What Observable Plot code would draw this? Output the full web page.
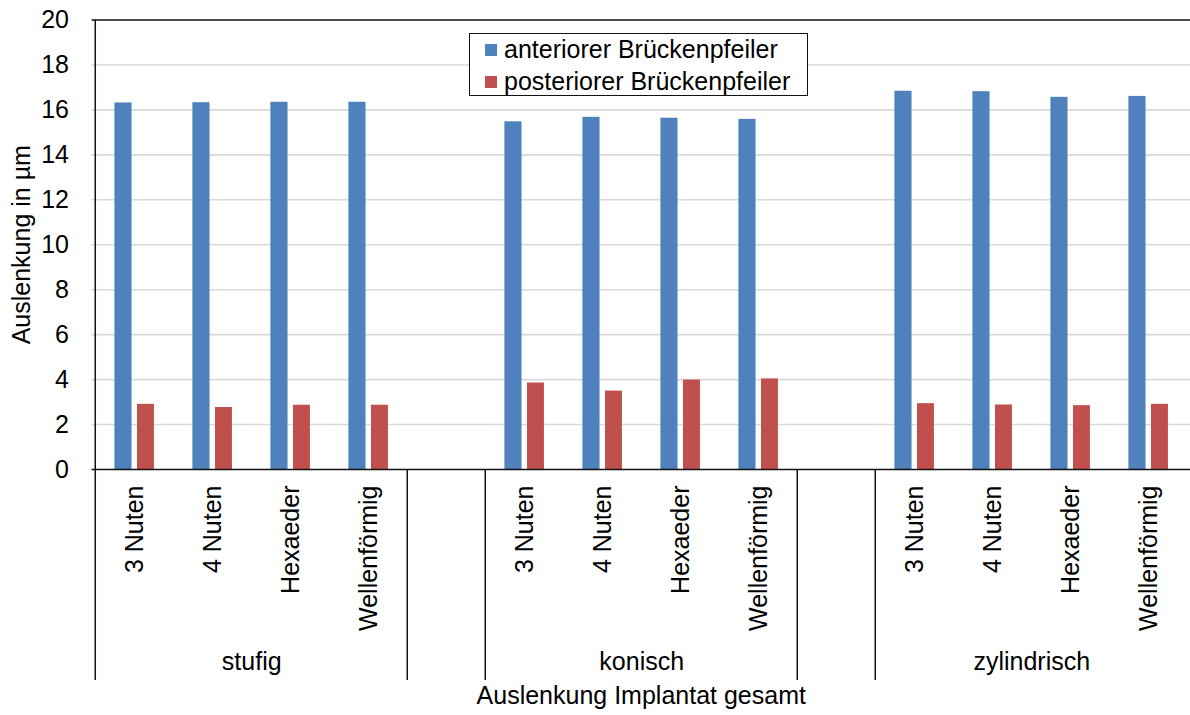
<!DOCTYPE html>
<html>
<head>
<meta charset="utf-8">
<script src="https://cdn.jsdelivr.net/npm/d3@7"></script>
<script src="https://cdn.jsdelivr.net/npm/@observablehq/plot@0.6"></script>
<style>
  html, body { margin: 0; padding: 0; background: #fff; }
  #chart { position: relative; width: 1190px; height: 715px; font-family: "Liberation Sans", Arial, sans-serif; }
  #legend {
    position: absolute; left: 469px; top: 33px; width: 337px; height: 61px;
    border: 1.5px solid #111; background: #fff; box-sizing: content-box;
    font-size: 25px; color: #000;
  }
  #legend .row { position: absolute; left: 15px; display: flex; align-items: center; white-space: nowrap; }
  #legend .sw { width: 12px; height: 12px; margin-right: 7px; }
</style>
</head>
<body>
<div id="chart"></div>
<script>
// Implant shapes grouped by abutment geometry
const groups = ["stufig", "konisch", "zylindrisch"];
const items = ["3 Nuten", "4 Nuten", "Hexaeder", "Wellenförmig"];

// Deflection in µm, in order groups × items
const anterior = [16.31, 16.32, 16.34, 16.34, 15.47, 15.67, 15.63, 15.58, 16.83, 16.81, 16.56, 16.60];
const posterior = [2.90, 2.76, 2.86, 2.86, 3.85, 3.49, 3.98, 4.03, 2.93, 2.87, 2.84, 2.90];

const seriesNames = ["anteriorer Brückenpfeiler", "posteriorer Brückenpfeiler"];
const seriesColors = ["#4f81bd", "#c0504d"];

const yTicks = [0, 2, 4, 6, 8, 10, 12, 14, 16, 18, 20];
const yLabel = "Auslenkung in µm";
const xLabel = "Auslenkung Implantat gesamt";

// Build slot domain: items of each group, with an empty slot between groups
const slots = [];
const rows = [];
const groupStart = [];
groups.forEach((g, gi) => {
  if (gi > 0) slots.push("gap" + gi);
  groupStart.push(slots.length);
  items.forEach((it, ii) => {
    const key = g + "|" + it;
    slots.push(key);
    const k = gi * items.length + ii;
    rows.push({slot: key, group: g, item: it, anterior: anterior[k], posterior: posterior[k]});
  });
});

const W = 1190, H = 715;
const marginLeft = 91.5, marginRight = 0, marginTop = 19.5, marginBottom = 246;
const step = (W - marginLeft - marginRight) / slots.length;
const below = 211; // depth of the category separators under the axis

// Separators: left edge of each group and of each gap slot
const dividerKeys = [];
groupStart.forEach((s, i) => { if (i > 0) dividerKeys.push(slots[s - 1]); dividerKeys.push(slots[s]); });

// Group labels sit between the 2nd and 3rd item of each group
const groupLabelRows = groups.map((g, gi) => ({slot: slots[groupStart[gi] + 1], label: g}));

const font = "'Liberation Sans', Arial, sans-serif";

const plot = Plot.plot({
  width: W,
  height: H,
  marginLeft, marginRight, marginTop, marginBottom,
  style: {fontFamily: font, fontSize: "25px", color: "#000", background: "#fff"},
  x: {type: "band", domain: slots, padding: 0, axis: null},
  y: {domain: [0, 20], axis: null},
  marks: [
    Plot.gridY(yTicks.filter(d => d > 0 && d < 20), {stroke: "#d9d9d9", strokeOpacity: 1, strokeWidth: 1.6}),
    Plot.barY(rows, {x: "slot", y: "anterior", fill: seriesColors[0], insetLeft: 19.4, insetRight: step - 19.4 - 17.6}),
    Plot.barY(rows, {x: "slot", y: "posterior", fill: seriesColors[1], insetLeft: 42, insetRight: step - 42 - 17.4}),
    Plot.axisY(yTicks, {tickSize: 0, tickPadding: 23, fontSize: 25, label: null}),
    Plot.ruleY([0, 20], {stroke: "#111", strokeWidth: 1.5}),
    // left axis line continuing down through the category area
    Plot.ruleX([slots[0]], {dx: -step / 2, stroke: "#111", strokeWidth: 1.5, insetBottom: -below}),
    Plot.ruleX(dividerKeys.slice(1), {dx: -step / 2, stroke: "#111", strokeWidth: 1.5, insetTop: H - marginTop - marginBottom, insetBottom: -below}),
    // item labels
    Plot.text(rows, {x: "slot", text: "item", frameAnchor: "bottom", rotate: -90, textAnchor: "end", lineAnchor: "middle", dy: 16, fontSize: 25, fill: "#000"}),
    // group labels
    Plot.text(groupLabelRows, {x: "slot", text: "label", frameAnchor: "bottom", dx: step / 2, dy: 200, fontSize: 25, fill: "#000"}),
    // axis titles
    Plot.text([xLabel], {frameAnchor: "bottom", dy: 234, fontSize: 25, fill: "#000"}),
    Plot.text([yLabel], {frameAnchor: "left", rotate: -90, textAnchor: "middle", dx: -70, dy: 0, fontSize: 25, fill: "#000"})
  ]
});

const chart = document.getElementById("chart");
chart.appendChild(plot);

// Legend box inside the plot area
const legend = document.createElement("div");
legend.id = "legend";
seriesNames.forEach((name, i) => {
  const row = document.createElement("div");
  row.className = "row";
  row.style.top = (i === 0 ? 1 : 33) + "px";
  const sw = document.createElement("span");
  sw.className = "sw";
  sw.style.background = seriesColors[i];
  const label = document.createElement("span");
  label.textContent = name;
  row.appendChild(sw);
  row.appendChild(label);
  legend.appendChild(row);
});
chart.appendChild(legend);
</script>
</body>
</html>
